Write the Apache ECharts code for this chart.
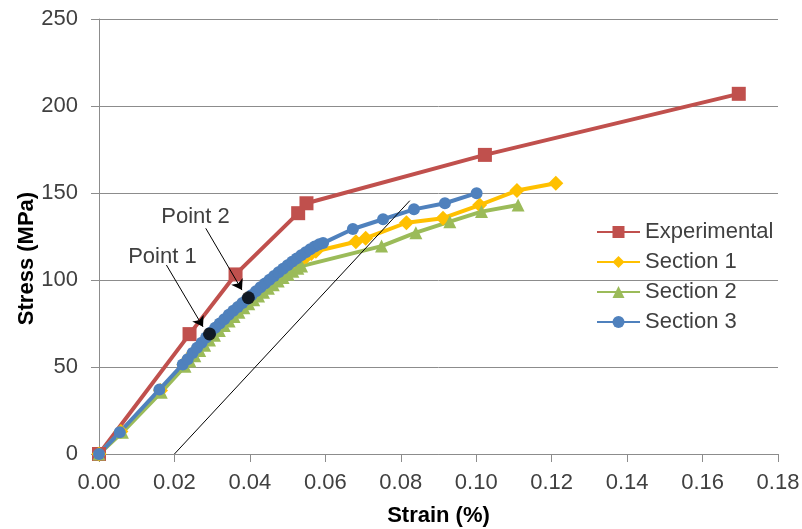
<!DOCTYPE html>
<html>
<head>
<meta charset="utf-8">
<script src="https://cdn.jsdelivr.net/npm/echarts@6/dist/echarts.min.js"></script>
<style>
html,body{margin:0;padding:0;background:#fff;}
#chart{width:802px;height:529px;}
</style>
</head>
<body>
<div id="chart"></div>
<script>
// ---- data (strain %, stress MPa) ----
var experimental = [[0,0],[0.0240,68.9],[0.0362,103.2],[0.0528,138.4],[0.0550,144.1],[0.1023,171.9],[0.1696,207.0]];
var section1 = [[0,0],[0.0058,13],[0.0163,36.5],
  [0.0225,51.5],[0.0238,55],[0.0251,58.3],[0.0264,61.5],[0.0277,64.5],[0.0290,67.5],[0.0303,70.5],[0.0316,73.3],
  [0.0329,76],[0.0342,78.8],[0.0355,81.5],[0.0368,84],[0.0381,86.5],[0.0394,88.8],[0.0407,91],[0.0420,93.3],
  [0.0433,95.5],[0.0446,97.6],[0.0459,99.7],[0.0472,101.8],[0.0485,103.8],[0.0498,105.8],[0.0511,107.8],
  [0.0524,109.8],[0.0537,111.7],[0.0550,113.5],[0.0563,115.2],[0.0575,116.5],
  [0.0681,122.0],[0.0707,124.0],[0.0815,132.9],[0.0912,135.5],[0.1009,143.1],[0.1108,151.4],[0.1211,155.6]];
var section2 = [[0,0],[0.0062,12.5],[0.0165,35.5],
  [0.0228,50.5],[0.0241,53.5],[0.0254,56.5],[0.0267,59.5],[0.0280,62.5],[0.0293,65.5],[0.0306,68.3],[0.0319,71],
  [0.0332,73.8],[0.0345,76.5],[0.0358,79],[0.0371,81.5],[0.0384,84],[0.0397,86.3],[0.0410,88.6],[0.0423,90.8],
  [0.0436,93],[0.0449,95.2],[0.0462,97.3],[0.0475,99.4],[0.0488,101.4],[0.0501,103.3],[0.0514,105.1],
  [0.0527,106.8],[0.0537,108],
  [0.0749,119.5],[0.0840,127.2],[0.0930,133.5],[0.1014,139.3],[0.1111,143.1]];
var section3 = [[0,0],[0.0055,12.5],[0.0160,37],
  [0.0222,51.5],[0.0235,54.5],[0.0248,58],[0.0260,61],[0.0272,64],[0.0284,67],[0.0296,69.8],[0.0308,72.5],
  [0.0320,75],[0.0332,77.5],[0.0344,80],[0.0356,82.3],[0.0368,84.5],[0.0380,86.8],[0.0392,89],[0.0404,91.2],
  [0.0416,93.5],[0.0428,95.8],[0.0440,98],[0.0452,100.2],[0.0464,102.3],[0.0476,104.5],[0.0488,106.5],
  [0.0500,108.5],[0.0512,110.5],[0.0524,112.3],[0.0536,114.2],[0.0548,116],[0.0560,117.7],[0.0572,119.2],
  [0.0584,120.5],[0.0594,121.2],
  [0.0673,129.3],[0.0753,134.9],[0.0835,140.6],[0.0917,144.1],[0.1001,149.9]];
var offsetLine = [[0.02,0],[0.0824,145.6]];
var markedPoints = [[0.0293,69.0],[0.0396,89.8]];
var pointLabels = ['Point 1','Point 2'];
var labelAt = [[0.0168,113.2],[0.0256,136.2]];
var arrowFrom = [[0.01787,108.6],[0.0283,129.7]];
var arrowTo = [[0.02757,73.1],[0.0379,94.2]];
var seriesNames = ['Experimental','Section 1','Section 2','Section 3'];
var xTicks = {min:0, max:0.18, step:0.02};
var yTicks = {min:0, max:250, step:50};

var FONT = '"Liberation Sans", Arial, sans-serif';
var gridColor = '#8c8c8c';
var textColor = '#404040';

function lineSeries(name, data, color, symbol, size){
  return {
    name:name, type:'line', data:data, symbol:symbol, symbolSize:size,
    showSymbol:true, animation:false,
    lineStyle:{color:color, width:4},
    itemStyle:{color:color, borderWidth:0}
  };
}

var chart = echarts.init(document.getElementById('chart'));
chart.setOption({
  animation:false,
  backgroundColor:'#fff',
  grid:{left:99, right:24, top:19, bottom:75, outerBoundsMode:'none', containLabel:false},
  legend:{
    orient:'vertical', left:591, top:216,
    data:seriesNames,
    itemWidth:43, itemHeight:15, itemGap:8,
    textStyle:{fontFamily:FONT, fontSize:22, color:textColor}
  },
  xAxis:{
    type:'value', min:xTicks.min, max:xTicks.max, interval:xTicks.step,
    name:'Strain (%)', nameLocation:'middle', nameGap:51, nameMoveOverlap:false,
    nameTextStyle:{fontFamily:FONT, fontSize:22, fontWeight:'bold', color:'#000'},
    axisLine:{show:true, onZero:false, lineStyle:{color:gridColor, width:1}},
    axisTick:{show:true, length:8, lineStyle:{color:gridColor}},
    axisLabel:{margin:18, fontFamily:FONT, fontSize:22, color:textColor,
      formatter:function(v){return v.toFixed(2);}},
    splitLine:{show:false}
  },
  yAxis:{
    type:'value', min:yTicks.min, max:yTicks.max, interval:yTicks.step,
    name:'Stress (MPa)', nameLocation:'middle', nameGap:61, nameMoveOverlap:false,
    nameTextStyle:{fontFamily:FONT, fontSize:22, fontWeight:'bold', color:'#000', padding:[0,44,0,0]},
    axisLine:{show:true, lineStyle:{color:gridColor, width:1}},
    axisTick:{show:true, length:8, lineStyle:{color:gridColor}},
    axisLabel:{margin:21, fontFamily:FONT, fontSize:22, color:textColor},
    splitLine:{show:true, lineStyle:{color:gridColor, width:1}}
  },
  series:[
    lineSeries(seriesNames[0], experimental, '#C0504D', 'rect', 14),
    lineSeries(seriesNames[1], section1, '#FFC000', 'diamond', 15),
    lineSeries(seriesNames[2], section2, '#9BBB59', 'triangle', 13),
    lineSeries(seriesNames[3], section3, '#4F81BD', 'circle', 12),
    {
      name:'offset', type:'line', data:offsetLine, symbol:'none',
      lineStyle:{color:'#000', width:1}, z:5, silent:true
    },
    {
      name:'points', type:'scatter', data:markedPoints, symbol:'circle', symbolSize:13,
      itemStyle:{color:'#000'}, z:6,
      markLine:{
        silent:true, symbol:['none','arrow'], symbolSize:10,
        lineStyle:{color:'#000', width:1, type:'solid'},
        itemStyle:{color:'#000'},
        label:{show:false},
        data:arrowFrom.map(function(p,i){ return [{coord:p},{coord:arrowTo[i]}]; })
      },
      markPoint:{
        silent:true, symbol:'circle', symbolSize:0,
        label:{show:true, position:'inside', fontFamily:FONT, fontSize:22, color:textColor,
          formatter:function(p){return p.name;}},
        data:labelAt.map(function(p,i){ return {name:pointLabels[i], coord:p}; })
      }
    }
  ]
});
</script>
</body>
</html>
